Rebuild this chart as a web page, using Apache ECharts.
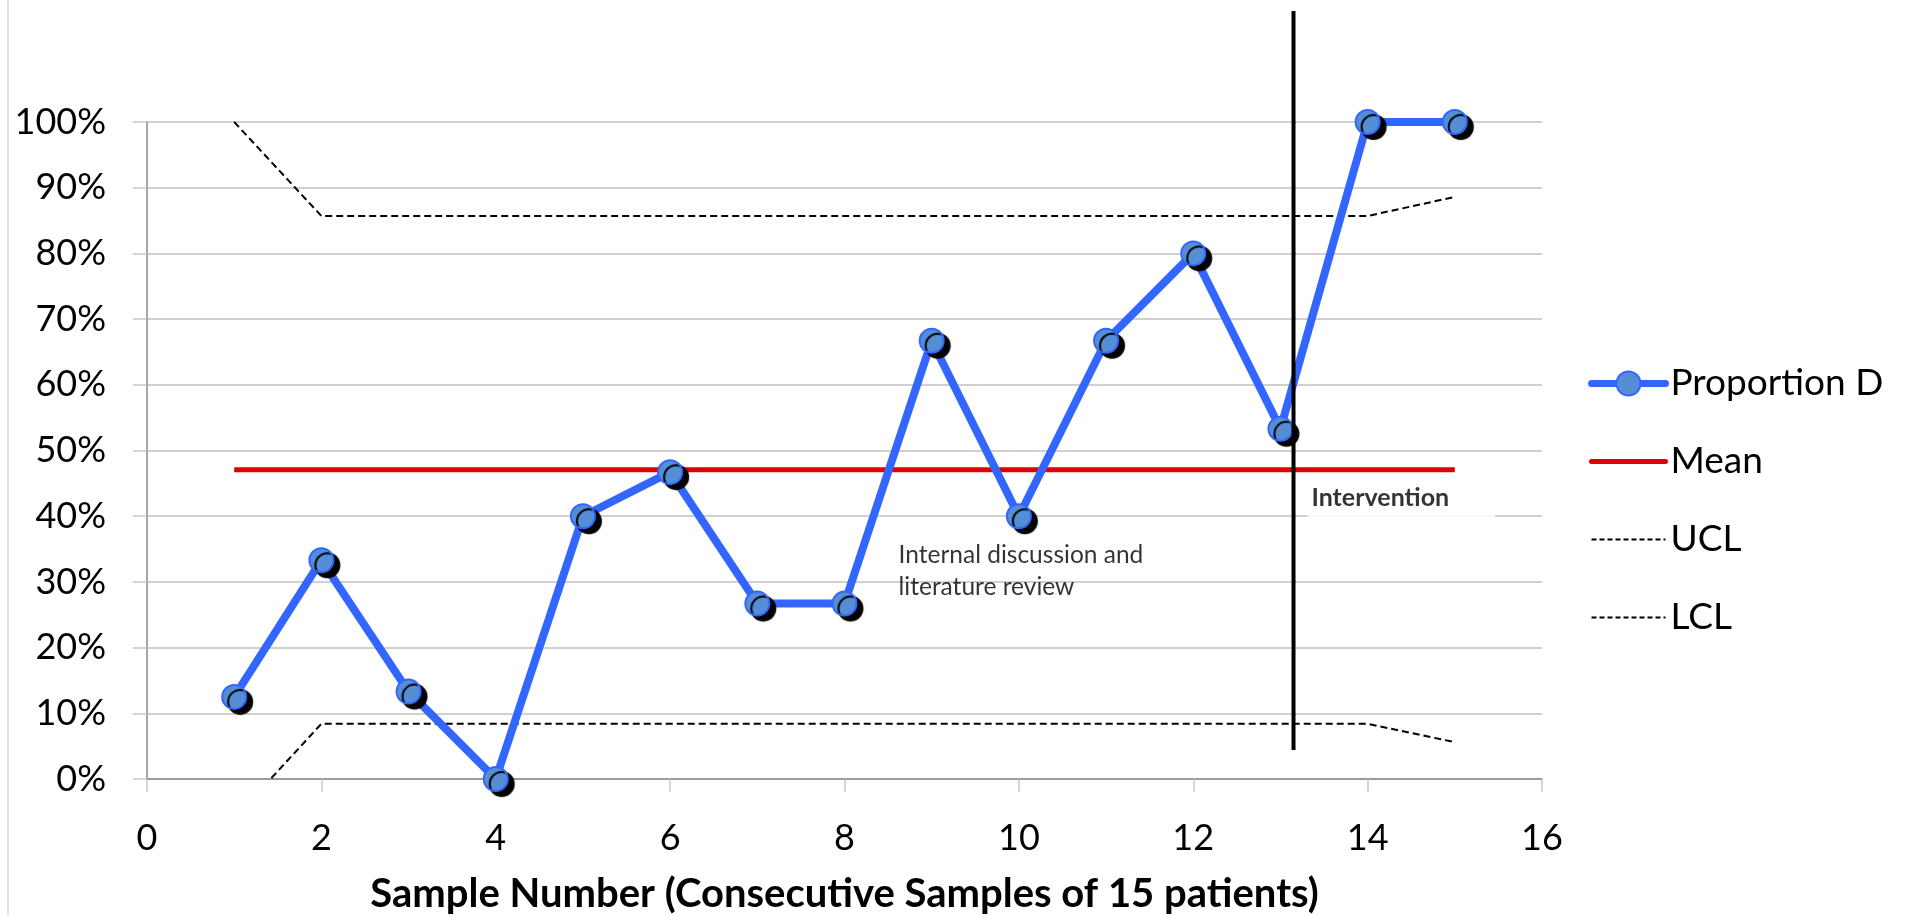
<!DOCTYPE html>
<html><head><meta charset="utf-8">
<script src="https://cdn.jsdelivr.net/npm/echarts@6/dist/echarts.min.js"></script>
<style>html,body{margin:0;padding:0;background:#fff}#c{width:1910px;height:915px}</style>
</head><body><div id="c"></div>
<script>
// ---- data ----
const sampleNumbers = [1,2,3,4,5,6,7,8,9,10,11,12,13,14,15];
const proportionD = [0.125,0.333,0.133,0,0.4,0.467,0.267,0.267,0.667,0.4,0.667,0.8,0.533,1,1];
const meanValues = [0.4706,0.4706,0.4706,0.4706,0.4706,0.4706,0.4706,0.4706,0.4706,0.4706,0.4706,0.4706,0.4706,0.4706,0.4706];
const uclValues = [1.0,0.857,0.857,0.857,0.857,0.857,0.857,0.857,0.857,0.857,0.857,0.857,0.857,0.857,0.886];
const lclValues = [-0.06,0.084,0.084,0.084,0.084,0.084,0.084,0.084,0.084,0.084,0.084,0.084,0.084,0.084,0.056];
const xAxisRange = [0, 16, 2];      // min, max, interval
const yAxisRange = [0, 1, 0.1];     // min, max, interval
const interventionX = [13.15, 13.15];
const interventionY = [0.044, 1.169];
const interventionLabel = 'Intervention';
const interventionLabelAt = [13.31, 0.428];
const discussionLabel = 'Internal discussion and\nliterature review';
const discussionLabelAt = [8.62, 0.3166];
const seriesNames = ['Proportion D','Mean','UCL','LCL'];
const xTitle = 'Sample Number (Consecutive Samples of 15 patients)';

const pair = (xs, ys) => xs.map((x,i)=>[x, ys[i]]);
const FONT = 'Lato';
const hideSym = {opacity:0, color:'transparent', borderColor:'transparent', borderWidth:0, shadowColor:'transparent'};

const chart = echarts.init(document.getElementById('c'), null, {renderer:'canvas'});
chart.setOption({
  animation: false,
  backgroundColor: '#fff',
  textStyle: {fontFamily: FONT},
  graphic: [{type:'line', shape:{x1:8,y1:0,x2:8,y2:915}, style:{stroke:'#D4D4D4', lineWidth:1.5}, silent:true}],
  grid: {left:147, right:368, top:122, bottom:136, containLabel:false, outerBoundsMode:'none'},
  legend: {
    orient:'vertical', left:1583, top:358,
    itemWidth:74, itemHeight:30, itemGap:37, itemTextGap:5,
    data: [
      {name:seriesNames[0], lineStyle:{width:7, cap:'round'}, itemStyle:{shadowColor:'transparent', shadowBlur:0, shadowOffsetX:0, shadowOffsetY:0}},
      {name:seriesNames[1], lineStyle:{width:5, cap:'round'}, itemStyle:hideSym},
      {name:seriesNames[2], lineStyle:{width:2, type:[5,3]}, itemStyle:hideSym},
      {name:seriesNames[3], lineStyle:{width:2, type:[5,3]}, itemStyle:hideSym}
    ],
    textStyle:{fontFamily:FONT, fontSize:37, color:'#000', lineHeight:41},
    selectedMode:false
  },
  xAxis: {
    type:'value', min:xAxisRange[0], max:xAxisRange[1], interval:xAxisRange[2],
    name: xTitle, nameLocation:'middle', nameGap:95,
    nameTextStyle:{fontFamily:FONT, fontSize:40, fontWeight:'bold', color:'#000'},
    axisLine:{show:true, onZero:false, lineStyle:{color:'#888', width:1.5}},
    axisTick:{show:true, length:13, lineStyle:{color:'#C8C8C8', width:1.5}},
    axisLabel:{fontFamily:FONT, fontSize:36, color:'#000', margin:41},
    splitLine:{show:false}
  },
  yAxis: {
    type:'value', min:yAxisRange[0], max:yAxisRange[1], interval:yAxisRange[2],
    axisLine:{show:true, lineStyle:{color:'#888', width:1.5}},
    axisTick:{show:true, length:14, lineStyle:{color:'#C8C8C8', width:1.5}},
    axisLabel:{fontFamily:FONT, fontSize:36, color:'#000', margin:41, formatter:v=>Math.round(v*100)+'%'},
    splitLine:{show:true, lineStyle:{color:'#C0C0C0', width:1.5}}
  },
  series: [
    {
      name:seriesNames[1], type:'line', data:pair(sampleNumbers, meanValues),
      symbol:'none', lineStyle:{color:'#E00000', width:5}, itemStyle:{color:'#E00000'}, z:2
    },
    {
      name:seriesNames[2], type:'line', data:pair(sampleNumbers, uclValues),
      symbol:'none', lineStyle:{color:'#000', width:2, type:[7,4]}, itemStyle:{color:'#000'}, z:2
    },
    {
      name:seriesNames[3], type:'line', data:pair(sampleNumbers, lclValues),
      symbol:'none', lineStyle:{color:'#000', width:2, type:[7,4]}, itemStyle:{color:'#000'}, z:2, clip:true
    },
    {
      name:seriesNames[0], type:'line', data:pair(sampleNumbers, proportionD),
      symbol:'circle', symbolSize:24, showAllSymbol:true,
      lineStyle:{color:'#3366FF', width:8},
      itemStyle:{color:'#558ED5', borderColor:'#3366FF', borderWidth:2,
                 shadowColor:'#000', shadowBlur:1, shadowOffsetX:6, shadowOffsetY:5},
      z:3
    },
    {
      name:'intervention', type:'line', data:pair(interventionX, interventionY),
      symbol:'none', clip:false, lineStyle:{color:'#000', width:4}, z:5, silent:true
    },
    {
      name:'labels', type:'scatter', symbolSize:0.01, silent:true, z:6, clip:false,
      data:[
        {value:interventionLabelAt, label:{show:true, position:'right', distance:0,
          formatter:interventionLabel, fontFamily:FONT, fontSize:25, fontWeight:'bold', color:'#000',
          backgroundColor:'#fff', padding:[9,46,9,4]}},
        {value:discussionLabelAt, label:{show:true, position:'right', distance:0,
          formatter:discussionLabel, fontFamily:FONT, fontSize:24.5, color:'#000', lineHeight:32}}
      ]
    }
  ]
});
</script></body></html>
